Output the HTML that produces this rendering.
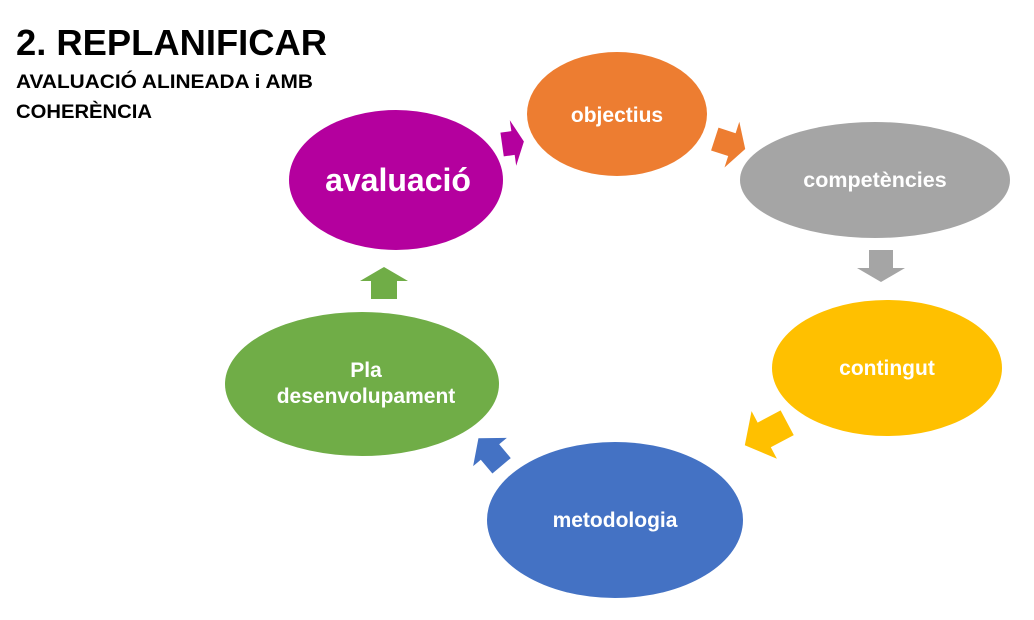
<!DOCTYPE html>
<html><head><meta charset="utf-8"><style>
html,body{margin:0;padding:0;background:#fff}
svg{display:block}
text{font-family:"Liberation Sans",sans-serif;font-weight:bold}
</style></head><body>
<svg width="1034" height="620" viewBox="0 0 1034 620" xmlns="http://www.w3.org/2000/svg">
<rect width="1034" height="620" fill="#fff"/>
<text x="16" y="55" font-size="36" fill="#000" textLength="311" lengthAdjust="spacingAndGlyphs">2. REPLANIFICAR</text>
<text x="16" y="88" font-size="19" fill="#000" textLength="297" lengthAdjust="spacingAndGlyphs">AVALUACIÓ ALINEADA i AMB</text>
<text x="16" y="118" font-size="19" fill="#000" textLength="136" lengthAdjust="spacingAndGlyphs">COHERÈNCIA</text>

<ellipse cx="617" cy="114" rx="90" ry="62" fill="#ED7D31"/>
<ellipse cx="875" cy="180" rx="135" ry="58" fill="#A5A5A5"/>
<ellipse cx="887" cy="368" rx="115" ry="68" fill="#FFC000"/>
<ellipse cx="615" cy="520" rx="128" ry="78" fill="#4472C4"/>
<ellipse cx="362" cy="384" rx="137" ry="72" fill="#70AD47"/>
<ellipse cx="396" cy="180" rx="107" ry="70" fill="#B4009E"/>

<g fill="#fff" text-anchor="middle">
<text x="617" y="122" font-size="21">objectius</text>
<text x="875" y="187" font-size="21.5">competències</text>
<text x="887" y="375" font-size="21">contingut</text>
<text x="615" y="527" font-size="21">metodologia</text>
<text x="366" y="377" font-size="21">Pla</text>
<text x="366" y="403" font-size="21">desenvolupament</text>
<text x="398" y="191" font-size="32">avaluació</text>
</g>

<g transform="translate(513,143) rotate(-8)"><path d="M-11,-12 H0 V-23 L11,0 L0,23 V12 H-11 Z" fill="#B4009E"/></g>
<g transform="translate(730,144) rotate(18)"><path d="M-16,-12 H2 V-24 L16,0 L2,24 V12 H-16 Z" fill="#ED7D31"/></g>
<g transform="translate(881,266) rotate(90)"><path d="M-16,-12 H2 V-24 L16,0 L2,24 V12 H-16 Z" fill="#A5A5A5"/></g>
<g transform="translate(766,434) rotate(152)"><path d="M-24,-14 H2 V-27 L24,0 L2,27 V14 H-24 Z" fill="#FFC000"/></g>
<g transform="translate(490,452) rotate(-130)"><path d="M-18,-12 H0 V-22 L18,0 L0,22 V12 H-18 Z" fill="#4472C4"/></g>
<g transform="translate(384,283) rotate(-90)"><path d="M-16,-13 H2 V-24 L16,0 L2,24 V13 H-16 Z" fill="#70AD47"/></g>
</svg>
</body></html>
